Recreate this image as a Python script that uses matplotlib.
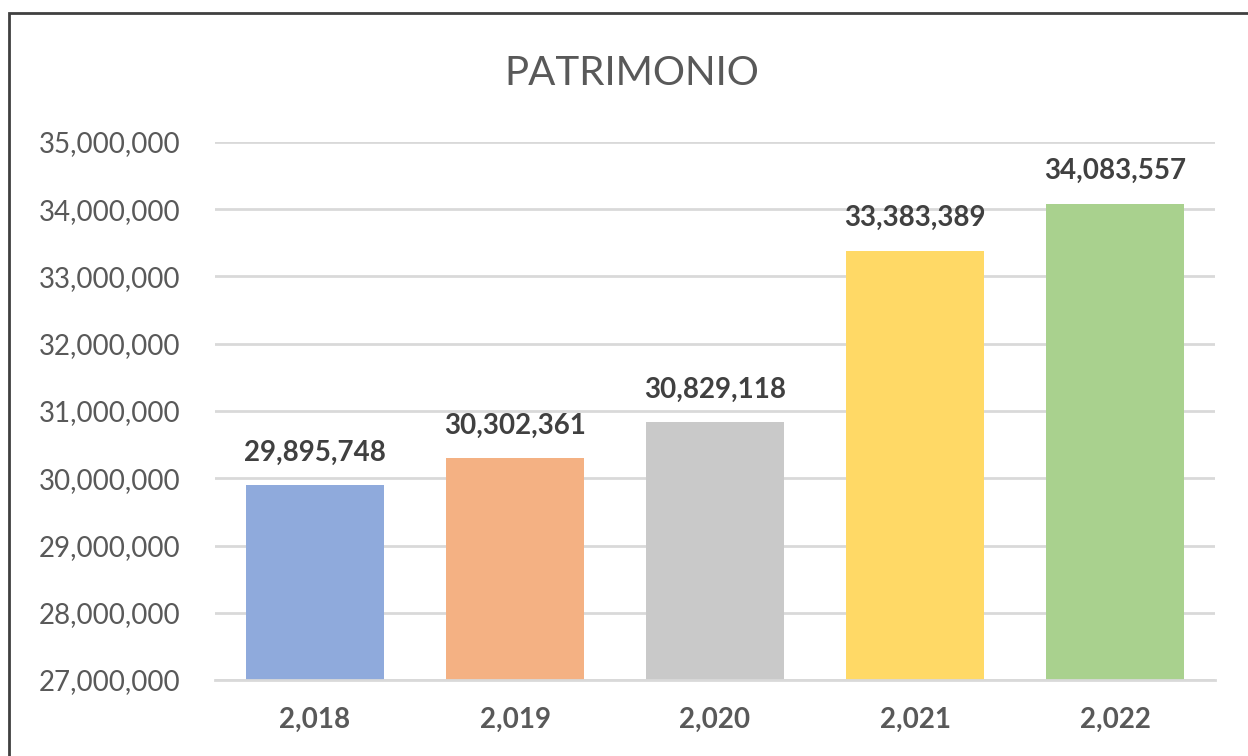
import matplotlib.pyplot as plt
from matplotlib.patches import Rectangle
from matplotlib.ticker import FuncFormatter

# data
years = ["2,018", "2,019", "2,020", "2,021", "2,022"]
patrimonio = [29895748, 30302361, 30829118, 33383389, 34083557]
colors = ["#8FAADC", "#F4B183", "#C9C9C9", "#FFD966", "#A9D18E"]

text_color = "#595959"
plt.rcParams['font.family'] = ['Lato', 'DejaVu Sans']

fig = plt.figure(figsize=(12.48, 7.56), dpi=100)
ax = fig.add_axes([0.1723, 0.1005, 0.8013, 0.7117])

x = range(len(years))
bars = ax.bar(x, patrimonio, width=0.69, color=colors, zorder=2)

ax.set_ylim(27000000, 35000000)
ax.set_xlim(-0.5, len(years) - 0.5)
ax.set_yticks(range(27000000, 35000001, 1000000))
ax.yaxis.set_major_formatter(FuncFormatter(lambda v, p: f"{int(v):,}"))
ax.set_xticks(list(x))
ax.set_xticklabels(years, fontweight='bold')

ax.grid(axis='y', color='#D9D9D9', linewidth=2, zorder=0)
for s in ['top', 'right', 'left']:
    ax.spines[s].set_visible(False)
ax.spines['bottom'].set_color('#D9D9D9')
ax.spines['bottom'].set_linewidth(2)
ax.tick_params(axis='both', length=0, colors=text_color, labelsize=20)
ax.tick_params(axis='y', pad=25)
ax.tick_params(axis='x', pad=19)

# value labels on top of bars
for b, v in zip(bars, patrimonio):
    ax.annotate(f"{v:,}", (b.get_x() + b.get_width() / 2, v),
                xytext=(0, 14), textcoords='offset points',
                ha='center', va='bottom', fontsize=20, fontweight='bold',
                color='#404040')

fig.text(0.5064, 0.903, "PATRIMONIO", ha='center', va='center',
         fontsize=29, color=text_color)

# chart border like the screenshot frame
fig.patches.append(Rectangle((9 / 1248, -0.01), 1.02, 1 - 13 / 756 + 0.01,
                             transform=fig.transFigure, fill=False,
                             edgecolor='#404040', linewidth=2))

fig.savefig("out.png", dpi=100)
